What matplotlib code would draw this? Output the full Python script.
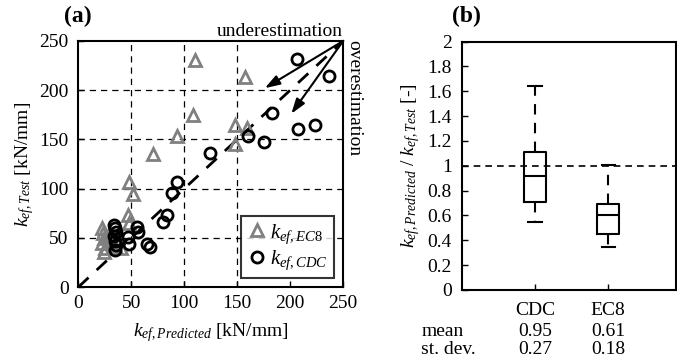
import matplotlib
matplotlib.use("Agg")
import matplotlib.pyplot as plt

plt.rcParams['font.family'] = ['Liberation Serif', 'DejaVu Serif']
plt.rcParams['mathtext.fontset'] = 'custom'
plt.rcParams['mathtext.rm'] = 'Liberation Serif'
plt.rcParams['mathtext.it'] = 'Liberation Serif:italic'
plt.rcParams['mathtext.bf'] = 'Liberation Serif:bold'

# (a) predicted vs. test effective stiffness [kN/mm]
ec8_pred = [22, 23, 24, 22, 25, 24, 28, 30, 35, 40, 47, 48, 48, 52, 70, 93, 108, 110, 148, 148, 157, 159]
ec8_test = [60, 55, 50, 45, 40, 36, 52, 47, 42, 40, 73, 65, 107, 95, 135, 153, 175, 231, 145, 165, 213, 162]
cdc_pred = [34, 35, 36, 34, 35, 36, 35, 47, 48, 55, 56, 65, 68, 80, 84, 88, 93, 124, 160, 175, 183, 207, 223, 206, 237]
cdc_test = [63, 60, 56, 52, 47, 43, 38, 51, 44, 61, 56, 44, 41, 66, 73, 96, 107, 136, 153, 147, 177, 161, 165, 232, 214]
axis_ticks = [0, 50, 100, 150, 200, 250]

# (b) ratio statistics k_pred / k_test
box_names = ['CDC', 'EC8']
box_q1 = [0.71, 0.45]
box_med = [0.92, 0.60]
box_q3 = [1.11, 0.69]
box_wlo = [0.55, 0.35]
box_whi = [1.64, 1.01]
ratio_mean = ['0.95', '0.61']
ratio_std = ['0.27', '0.18']
ratio_ticks = [0, 0.2, 0.4, 0.6, 0.8, 1, 1.2, 1.4, 1.6, 1.8, 2]
ratio_labels = ['0', '0.2', '0.4', '0.6', '0.8', '1', '1.2', '1.4', '1.6', '1.8', '2']

fig = plt.figure(figsize=(6.77, 3.62), dpi=100)
axA = fig.add_axes([0.1157, 0.207, 0.3913, 0.680])
axB = fig.add_axes([0.682, 0.199, 0.316, 0.686])

FS = 14
for ax in (axA, axB):
    for s in ax.spines.values():
        s.set_linewidth(1.5)
    ax.tick_params(direction='in', labelsize=FS, length=4, width=1)
    ax.tick_params(axis='y', pad=7)
    ax.tick_params(axis='x', pad=6)

# ---- panel (a)
axA.set_xlim(0, 250)
axA.set_ylim(0, 250)
axA.set_xticks(axis_ticks)
axA.set_yticks(axis_ticks)
for v in [50, 100, 150]:
    axA.axvline(v, color='black', ls=(0, (5, 4)), lw=0.9, zorder=1)
for v in [50, 100, 150, 200]:
    axA.axhline(v, color='black', ls=(0, (5, 4)), lw=0.9, zorder=1)
axA.plot([0, 250], [0, 250], color='black', lw=2, ls=(0, (5, 4)), zorder=2)

axA.plot(ec8_pred, ec8_test, ls='none', marker='^', ms=8, mfc='none',
         mec='#808080', mew=2, label=r'$k_{ef,EC8}$', zorder=3)
axA.plot(cdc_pred, cdc_test, ls='none', marker='o', ms=8, mfc='none',
         mec='black', mew=2, label=r'$k_{ef,CDC}$', zorder=4)

for tip in [(176, 202), (201, 176)]:
    axA.annotate('', xy=tip, xytext=(250, 250),
                 arrowprops=dict(arrowstyle='-|>,head_length=0.9,head_width=0.3',
                                 color='black', lw=1.5, shrinkA=0, shrinkB=0))
axA.text(250, 251, 'underestimation', ha='right', va='bottom', fontsize=FS)
axA.text(252, 251, 'overestimation', ha='left', va='top', rotation=-90, fontsize=FS)

leg = axA.legend(loc='lower right', bbox_to_anchor=(0.965, 0.035), fontsize=15,
                 frameon=True, fancybox=False, edgecolor='black',
                 handletextpad=0.1, borderpad=0.3, labelspacing=0.15,
                 handlelength=1.0, borderaxespad=0)
leg.get_frame().set_linewidth(1.5)

axA.set_xlabel(r'$k_{ef,Predicted}$ [kN/mm]', fontsize=FS, labelpad=6)
axA.set_ylabel(r'$k_{ef,Test}$ [kN/mm]', fontsize=FS, labelpad=2)
fig.text(0.095, 0.955, '(a)', fontsize=17, fontweight='bold', ha='left', va='center')

# ---- panel (b)
stats = []
for i, n in enumerate(box_names):
    stats.append(dict(label=n, q1=box_q1[i], med=box_med[i], q3=box_q3[i],
                      whislo=box_wlo[i], whishi=box_whi[i], fliers=[]))
axB.bxp(stats, positions=[1, 2], widths=0.3, showfliers=False,
        boxprops=dict(color='black', lw=1.5),
        medianprops=dict(color='black', lw=1.5),
        whiskerprops=dict(color='black', lw=1.5, ls=(0, (5, 4))),
        capprops=dict(color='black', lw=1.5), capwidths=0.18)
axB.axhline(1, color='black', lw=1.2, ls=(0, (4, 3)), zorder=0)
axB.set_xlim(0, 2.92)
axB.set_ylim(0, 2)
axB.set_yticks(ratio_ticks)
axB.set_yticklabels(ratio_labels)
axB.set_xticks([1, 2])
axB.set_xticklabels(box_names)
axB.tick_params(axis='x', pad=9)
axB.set_ylabel(r'$k_{ef,Predicted}$ / $k_{ef,Test}$ [-]', fontsize=FS, labelpad=4)

trans = axB.get_xaxis_transform()
axB.text(-0.55, -0.168, 'mean', transform=trans, fontsize=FS, ha='left', va='center')
axB.text(-0.55, -0.238, 'st. dev.', transform=trans, fontsize=FS, ha='left', va='center')
for i in range(2):
    axB.text(i + 1, -0.168, ratio_mean[i], transform=trans, fontsize=FS, ha='center', va='center')
    axB.text(i + 1, -0.238, ratio_std[i], transform=trans, fontsize=FS, ha='center', va='center')
fig.text(0.667, 0.955, '(b)', fontsize=17, fontweight='bold', ha='left', va='center')

fig.savefig('out.png', dpi=100)
